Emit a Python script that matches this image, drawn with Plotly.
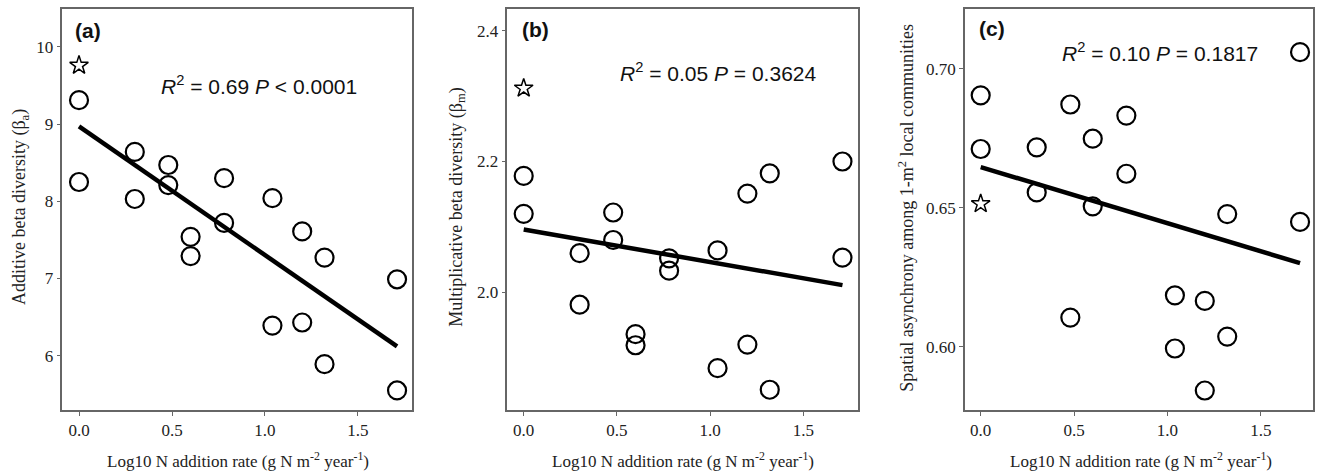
import plotly.graph_objects as go

W, H = 1321, 473

# ---------------- data ----------------
x_vals = [0, 0, 0.30, 0.30, 0.48, 0.48, 0.60, 0.60, 0.78, 0.78,
          1.04, 1.04, 1.20, 1.20, 1.32, 1.32, 1.71, 1.71]

beta_a = [9.31, 8.25, 8.64, 8.03, 8.47, 8.21, 7.54, 7.29, 8.30, 7.72,
          8.04, 6.39, 7.61, 6.43, 7.27, 5.89, 6.99, 5.55]
beta_m = [2.178, 2.120, 2.060, 1.981, 2.122, 2.080, 1.936, 1.919, 2.052, 2.033,
          2.064, 1.884, 2.151, 1.920, 2.182, 1.851, 2.200, 2.053]
asyn = [0.6904, 0.6711, 0.6717, 0.6555, 0.6871, 0.6105, 0.6748, 0.6505, 0.6831, 0.6622,
        0.6185, 0.5994, 0.6165, 0.5843, 0.6477, 0.6037, 0.7059, 0.6449]

star_x = [0]
star_a = [9.76]
star_b = [2.312]
star_c = [0.6514]

fit_x = [0, 1.71]
fit_a = [8.97, 6.12]
fit_b = [2.096, 2.011]
fit_c = [0.6646, 0.6301]

panel_labels = ["(a)", "(b)", "(c)"]
stats = ["<i>R</i><sup>2</sup> = 0.69 <i>P</i> &lt; 0.0001",
         "<i>R</i><sup>2</sup> = 0.05 <i>P</i> = 0.3624",
         "<i>R</i><sup>2</sup> = 0.10 <i>P</i> = 0.1817"]
y_titles = ["Additive beta diversity (β<sub>a</sub>)",
            "Multiplicative beta diversity (β<sub>m</sub>)",
            "Spatial asynchrony among 1-m<sup>2</sup> local communities"]
x_title = "Log10 N addition rate (g N m<sup>-2</sup> year<sup>-1</sup>)"

x_ticks = [0, 0.5, 1.0, 1.5]
y_ticks_a = [6, 7, 8, 9, 10]
y_ticks_b = [2.0, 2.2, 2.4]
y_ticks_c = [0.60, 0.65, 0.70]

# ---------------- layout geometry ----------------
def fx(px):
    return px / W

def fy(py):
    return 1 - py / H

x_domains = [[fx(62.3), fx(412.3)], [fx(507.3), fx(858.3)], [fx(965), fx(1313.3)]]
y_domain = [fy(410), fy(8.5)]
x_ranges = [[-0.0898, 1.792], [-0.088, 1.795], [-0.084, 1.781]]
y_ranges = [[5.297, 10.497], [1.820, 2.434], [0.5773, 0.7216]]
y_ticks = [y_ticks_a, y_ticks_b, y_ticks_c]
y_formats = ["d", ".1f", ".2f"]
series = [beta_a, beta_m, asyn]
stars = [star_a, star_b, star_c]
fits = [fit_a, fit_b, fit_c]

fig = go.Figure()
TICKFONT = dict(family="Liberation Serif", size=17, color="#222")
FRAME = "#666"

for i in range(3):
    xa = "x" if i == 0 else f"x{i+1}"
    ya = "y" if i == 0 else f"y{i+1}"
    fig.add_trace(go.Scatter(
        x=x_vals, y=series[i], mode="markers", xaxis=xa, yaxis=ya,
        marker=dict(symbol="circle-open", size=18, color="black",
                    line=dict(color="black", width=2.2)),
        showlegend=False, hoverinfo="skip"))
    fig.add_trace(go.Scatter(
        x=star_x, y=stars[i], mode="markers", xaxis=xa, yaxis=ya,
        marker=dict(symbol="star-open", size=14, color="black",
                    line=dict(color="black", width=1.5)),
        showlegend=False, hoverinfo="skip"))
    fig.add_trace(go.Scatter(
        x=fit_x, y=fits[i], mode="lines", xaxis=xa, yaxis=ya,
        line=dict(color="black", width=4.5),
        showlegend=False, hoverinfo="skip"))

    xkey = "xaxis" if i == 0 else f"xaxis{i+1}"
    ykey = "yaxis" if i == 0 else f"yaxis{i+1}"
    fig.update_layout(**{
        xkey: dict(domain=x_domains[i], range=x_ranges[i], anchor=ya,
                   tickvals=x_ticks, tickformat=".1f",
                   showgrid=False, zeroline=False,
                   showline=True, mirror=True, linecolor=FRAME, linewidth=1.5,
                   ticks="outside", ticklen=4, tickcolor=FRAME, tickwidth=1,
                   tickfont=TICKFONT),
        ykey: dict(domain=y_domain, range=y_ranges[i], anchor=xa,
                   tickvals=y_ticks[i], tickformat=y_formats[i],
                   showgrid=False, zeroline=False,
                   showline=True, mirror=True, linecolor=FRAME, linewidth=1.5,
                   ticks="outside", ticklen=4, tickcolor=FRAME, tickwidth=1,
                   tickfont=TICKFONT),
    })

annotations = []
label_pos = [(72.7, 30), (520, 29.3), (976.7, 28.3)]
stat_pos = [(259.2, 85), (717.5, 71.7), (1160, 51.7)]
ytitle_pos = [(20, 207), (456.7, 207), (905.7, 208)]
xtitle_pos = [(238, 460), (683, 460), (1141, 460)]
for i in range(3):
    annotations.append(dict(
        text=f"<b>{panel_labels[i]}</b>", x=fx(label_pos[i][0]), y=fy(label_pos[i][1]),
        xref="paper", yref="paper", xanchor="left", yanchor="middle", showarrow=False,
        font=dict(family="Liberation Sans", size=21, color="#111")))
    annotations.append(dict(
        text=stats[i], x=fx(stat_pos[i][0]), y=fy(stat_pos[i][1]),
        xref="paper", yref="paper", xanchor="center", yanchor="middle", showarrow=False,
        font=dict(family="Liberation Sans", size=21, color="#111")))
    annotations.append(dict(
        text=y_titles[i], x=fx(ytitle_pos[i][0]), y=fy(ytitle_pos[i][1]),
        xref="paper", yref="paper", xanchor="center", yanchor="middle", showarrow=False,
        textangle=-90,
        font=dict(family="Liberation Serif", size=18, color="#222")))
    annotations.append(dict(
        text=x_title, x=fx(xtitle_pos[i][0]), y=fy(xtitle_pos[i][1]),
        xref="paper", yref="paper", xanchor="center", yanchor="middle", showarrow=False,
        font=dict(family="Liberation Serif", size=17, color="#222")))

fig.update_layout(
    width=W, height=H,
    margin=dict(l=0, r=0, t=0, b=0),
    paper_bgcolor="white", plot_bgcolor="white",
    annotations=annotations,
    showlegend=False,
)

fig.write_html(
    "out.html",
    config={"displayModeBar": False},
    post_script="document.body.style.margin='0';document.body.style.overflow='hidden';",
)
